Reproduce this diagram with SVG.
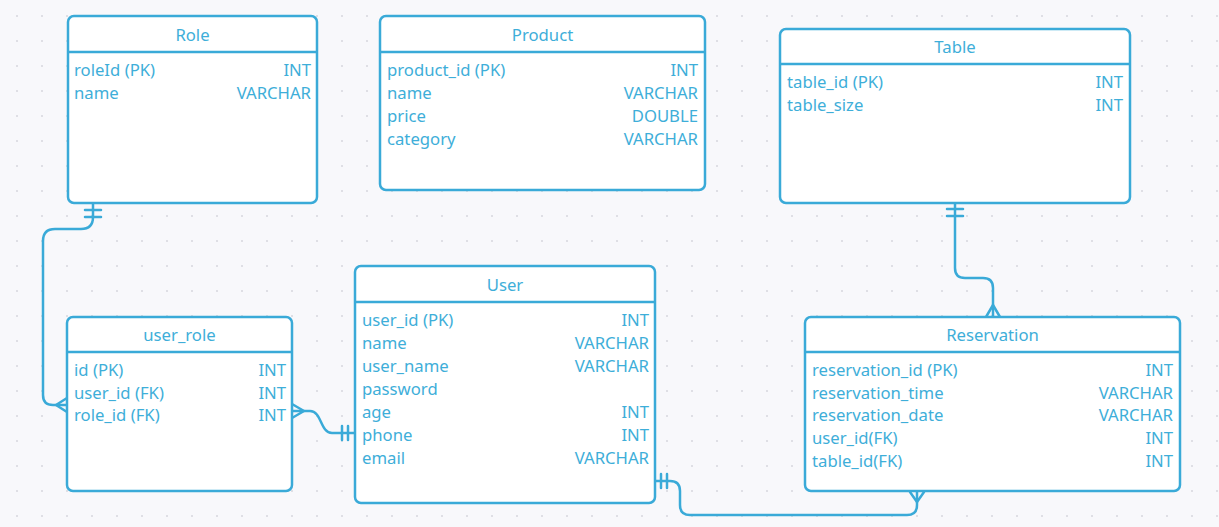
<svg xmlns="http://www.w3.org/2000/svg" width="1219" height="527" viewBox="0 0 1219 527">
<defs>
<pattern id="dots" patternUnits="userSpaceOnUse" width="25" height="25">
<rect x="16" y="15" width="2" height="2" fill="#dfdfe5"/>
</pattern>
<style>
.box{fill:#ffffff;stroke:#3aaad8;stroke-width:2.5}
.sep{stroke:#3aaad8;stroke-width:2.5}
.t{font-family:"Noto Sans","Open Sans",sans-serif;font-size:16.7px;fill:#3eaed9}
.h{text-anchor:middle}
.r{text-anchor:end}
.c{fill:none;stroke:#3aaad8;stroke-width:2.5;stroke-linecap:round;stroke-linejoin:round}
</style>
</defs>
<rect width="1219" height="527" fill="#f8f8fb"/>
<rect width="1219" height="527" fill="url(#dots)"/>

<g id="connectors">
<!-- Role -> user_role -->
<path class="c" d="M93,204 V217 Q93,229 81,229 H55 Q43,229 43,241 V395 Q43,405 53,405 H67"/>
<path class="c" d="M85,210 H101 M85,217 H101"/>
<path class="c" d="M67,398 L56,405 L67,412"/>
<!-- user_role -> User -->
<path class="c" d="M292,411 H310 C322,411 320,433 332,433 H355"/>
<path class="c" d="M292,404 L304,411 L292,418"/>
<path class="c" d="M342,426 V440 M348,426 V440"/>
<!-- User -> Reservation -->
<path class="c" d="M655,481 H670 Q680,481 680,491 V505 Q680,515 690,515 H907 Q917,515 917,505 V492"/>
<path class="c" d="M661,474 V488 M667,474 V488"/>
<path class="c" d="M910,492 L917,502 L924,492"/>
<!-- Table -> Reservation -->
<path class="c" d="M955,204 V268 Q955,278 965,278 H983 Q993,278 993,288 V317"/>
<path class="c" d="M947,209 H963 M947,216 H963"/>
<path class="c" d="M986,317 L993,305 L1000,317"/>
</g>

<g id="Role">
<rect class="box" x="68" y="16" width="249" height="187" rx="6"/>
<line class="sep" x1="68" y1="52" x2="317" y2="52"/>
<text class="t h" x="192.5" y="40.5">Role</text>
<text class="t" x="74" y="76">roleId (PK)</text><text class="t r" x="311" y="76">INT</text>
<text class="t" x="74" y="99">name</text><text class="t r" x="311" y="99">VARCHAR</text>
</g>

<g id="Product">
<rect class="box" x="380" y="16" width="325" height="174" rx="6"/>
<line class="sep" x1="380" y1="52" x2="705" y2="52"/>
<text class="t h" x="542.5" y="40.5">Product</text>
<text class="t" x="387" y="76">product_id (PK)</text><text class="t r" x="698" y="76">INT</text>
<text class="t" x="387" y="99">name</text><text class="t r" x="698" y="99">VARCHAR</text>
<text class="t" x="387" y="122">price</text><text class="t r" x="698" y="122">DOUBLE</text>
<text class="t" x="387" y="145">category</text><text class="t r" x="698" y="145">VARCHAR</text>
</g>

<g id="Table">
<rect class="box" x="780" y="29" width="350" height="174" rx="6"/>
<line class="sep" x1="780" y1="64" x2="1130" y2="64"/>
<text class="t h" x="955" y="53">Table</text>
<text class="t" x="787" y="88">table_id (PK)</text><text class="t r" x="1123" y="88">INT</text>
<text class="t" x="787" y="111">table_size</text><text class="t r" x="1123" y="111">INT</text>
</g>

<g id="user_role">
<rect class="box" x="67" y="317" width="225" height="174" rx="6"/>
<line class="sep" x1="67" y1="352" x2="292" y2="352"/>
<text class="t h" x="179.5" y="341">user_role</text>
<text class="t" x="74" y="376">id (PK)</text><text class="t r" x="286" y="376">INT</text>
<text class="t" x="74" y="399">user_id (FK)</text><text class="t r" x="286" y="399">INT</text>
<text class="t" x="74" y="421">role_id (FK)</text><text class="t r" x="286" y="421">INT</text>
</g>

<g id="User">
<rect class="box" x="355" y="266" width="300" height="237" rx="6"/>
<line class="sep" x1="355" y1="302" x2="655" y2="302"/>
<text class="t h" x="505" y="290.5">User</text>
<text class="t" x="362" y="326">user_id (PK)</text><text class="t r" x="649" y="326">INT</text>
<text class="t" x="362" y="349">name</text><text class="t r" x="649" y="349">VARCHAR</text>
<text class="t" x="362" y="372">user_name</text><text class="t r" x="649" y="372">VARCHAR</text>
<text class="t" x="362" y="395">password</text>
<text class="t" x="362" y="418">age</text><text class="t r" x="649" y="418">INT</text>
<text class="t" x="362" y="441">phone</text><text class="t r" x="649" y="441">INT</text>
<text class="t" x="362" y="464">email</text><text class="t r" x="649" y="464">VARCHAR</text>
</g>

<g id="Reservation">
<rect class="box" x="805" y="317" width="375" height="174" rx="6"/>
<line class="sep" x1="805" y1="352" x2="1180" y2="352"/>
<text class="t h" x="992.5" y="341">Reservation</text>
<text class="t" x="812" y="376">reservation_id (PK)</text><text class="t r" x="1173" y="376">INT</text>
<text class="t" x="812" y="399">reservation_time</text><text class="t r" x="1173" y="399">VARCHAR</text>
<text class="t" x="812" y="421">reservation_date</text><text class="t r" x="1173" y="421">VARCHAR</text>
<text class="t" x="812" y="444">user_id(FK)</text><text class="t r" x="1173" y="444">INT</text>
<text class="t" x="812" y="467">table_id(FK)</text><text class="t r" x="1173" y="467">INT</text>
</g>
</svg>
